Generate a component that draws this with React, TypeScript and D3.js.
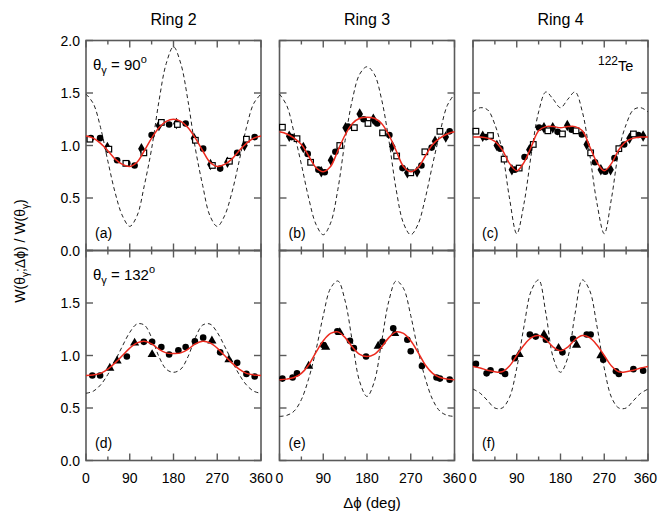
import React, { useEffect, useRef } from 'react';
import * as d3 from 'd3';

const curveAngles = [0, 15, 30, 45, 60, 75, 90, 105, 120, 135, 150, 165, 180, 195, 210, 225, 240, 255, 270, 285, 300, 315, 330, 345, 360];

const ringLabels = ['Ring 2', 'Ring 3', 'Ring 4'];
const panelLetters = ['(a)', '(b)', '(c)', '(d)', '(e)', '(f)'];
const xTickLabels = [0, 90, 180, 270, 360];
const yTickLabelsTop = [0, 0.5, 1.0, 1.5, 2.0];
const yTickLabelsBottom = [0, 0.5, 1.0, 1.5];

// theta = 90 row
const theoryA = [1.49, 1.40, 1.17, 0.85, 0.55, 0.33, 0.23, 0.33, 0.62, 0.97, 1.42, 1.78, 1.94, 1.78, 1.42, 0.97, 0.62, 0.33, 0.23, 0.33, 0.55, 0.85, 1.17, 1.40, 1.49];
const fitA = [1.09, 1.07, 1.02, 0.95, 0.87, 0.82, 0.80, 0.84, 0.95, 1.07, 1.17, 1.23, 1.25, 1.23, 1.17, 1.07, 0.95, 0.84, 0.80, 0.82, 0.87, 0.95, 1.02, 1.07, 1.09];
const theoryB = [1.49, 1.38, 1.12, 0.82, 0.50, 0.25, 0.15, 0.26, 0.58, 1.05, 1.44, 1.68, 1.75, 1.68, 1.44, 1.05, 0.58, 0.26, 0.15, 0.25, 0.50, 0.82, 1.12, 1.38, 1.49];
const fitB = [1.13, 1.11, 1.07, 1.01, 0.90, 0.79, 0.75, 0.80, 0.95, 1.10, 1.21, 1.26, 1.27, 1.26, 1.21, 1.10, 0.95, 0.80, 0.75, 0.79, 0.90, 1.01, 1.07, 1.11, 1.13];
const theoryC = [1.32, 1.36, 1.34, 1.20, 0.95, 0.50, 0.16, 0.45, 0.92, 1.32, 1.51, 1.44, 1.36, 1.44, 1.51, 1.32, 0.92, 0.45, 0.16, 0.50, 0.95, 1.20, 1.34, 1.36, 1.32];
const fitC = [1.08, 1.08, 1.07, 1.04, 0.96, 0.83, 0.76, 0.84, 0.99, 1.14, 1.18, 1.18, 1.17, 1.18, 1.18, 1.14, 0.99, 0.84, 0.76, 0.83, 0.96, 1.04, 1.07, 1.08, 1.08];

// theta = 132 row
const theoryD = [0.64, 0.66, 0.72, 0.82, 0.95, 1.09, 1.22, 1.30, 1.29, 1.17, 0.99, 0.87, 0.84, 0.87, 0.99, 1.17, 1.29, 1.30, 1.22, 1.09, 0.95, 0.82, 0.72, 0.66, 0.64];
const fitD = [0.81, 0.815, 0.83, 0.87, 0.93, 1.00, 1.07, 1.12, 1.135, 1.11, 1.06, 1.025, 1.02, 1.025, 1.06, 1.11, 1.135, 1.12, 1.07, 1.00, 0.93, 0.87, 0.83, 0.815, 0.81];
const theoryE = [0.42, 0.43, 0.47, 0.58, 0.78, 1.05, 1.38, 1.64, 1.71, 1.52, 1.13, 0.75, 0.61, 0.75, 1.13, 1.52, 1.71, 1.64, 1.38, 1.05, 0.78, 0.58, 0.47, 0.43, 0.42];
const fitE = [0.77, 0.775, 0.79, 0.83, 0.91, 1.03, 1.14, 1.21, 1.225, 1.17, 1.08, 1.01, 0.99, 1.01, 1.08, 1.17, 1.225, 1.21, 1.14, 1.03, 0.91, 0.83, 0.79, 0.775, 0.77];
const theoryF = [0.68, 0.64, 0.57, 0.50, 0.50, 0.60, 0.88, 1.28, 1.62, 1.72, 1.40, 0.98, 0.84, 0.98, 1.40, 1.72, 1.62, 1.28, 0.88, 0.60, 0.50, 0.50, 0.57, 0.64, 0.68];
const fitF = [0.895, 0.88, 0.86, 0.845, 0.845, 0.90, 1.00, 1.10, 1.17, 1.19, 1.15, 1.08, 1.045, 1.08, 1.15, 1.19, 1.17, 1.10, 1.00, 0.90, 0.845, 0.845, 0.86, 0.88, 0.895];

// measured points [delta phi, W]
const circlesA = [[10, 1.07], [29, 1.07], [64, 0.86], [85, 0.83], [100, 0.81], [135, 1.10], [171, 1.20], [205, 1.21], [241, 0.97], [276, 0.78], [311, 0.93], [347, 1.08]];
const diamondsA = [[44, 0.98], [114, 0.97], [150, 1.19], [186, 1.21], [222, 1.07], [256, 0.82], [291, 0.84], [326, 1.0]];
const squaresA = [[8, 1.06], [47, 0.965], [82, 0.83], [119, 0.93], [155, 1.22], [188, 1.20], [225, 1.05], [260, 0.81], [295, 0.85], [330, 1.06]];

const circlesB = [[25, 1.08], [58, 0.92], [80, 0.77], [93, 0.745], [115, 0.94], [141, 1.18], [173, 1.25], [201, 1.21], [226, 1.10], [253, 0.785], [292, 0.81], [313, 0.98], [350, 1.135]];
const diamondsB = [[20, 1.088], [49, 0.98], [86, 0.75], [106, 0.86], [136, 1.17], [165, 1.30], [193, 1.25], [232, 0.99], [263, 0.74], [283, 0.75], [320, 1.04], [342, 1.08]];
const squaresB = [[6, 1.174], [36, 1.065], [64, 0.84], [124, 1.0], [154, 1.17], [182, 1.21], [212, 1.12], [241, 0.90], [270, 0.74], [299, 0.94], [330, 1.135]];

const circlesC = [[27, 1.08], [56, 0.97], [86, 0.77], [106, 0.89], [136, 1.17], [174, 1.13], [203, 1.15], [224, 1.105], [251, 0.84], [272, 0.75], [291, 0.88], [311, 1.01], [340, 1.10]];
const diamondsC = [[20, 1.088], [49, 1.0], [80, 0.77], [116, 0.96], [146, 1.17], [164, 1.17], [194, 1.19], [234, 1.01], [263, 0.77], [283, 0.77], [322, 1.07], [350, 1.09]];
const squaresC = [[6, 1.136], [36, 1.095], [64, 0.87], [95, 0.785], [124, 1.01], [154, 1.14], [184, 1.11], [212, 1.14], [242, 0.93], [300, 0.97], [330, 1.11]];

const circlesD = [[13, 0.81], [29, 0.81], [84, 0.99], [119, 1.13], [136, 1.13], [155, 1.08], [171, 1.01], [190, 1.05], [205, 1.08], [224, 1.135], [241, 1.17], [276, 1.03], [311, 0.93], [330, 0.825], [347, 0.80]];
const trianglesD = [[49, 0.88], [64, 0.95], [100, 1.12], [136, 1.01], [259, 1.14], [294, 0.96]];

const circlesE = [[6, 0.78], [27, 0.79], [36, 0.83], [90, 1.10], [119, 1.23], [145, 1.14], [153, 1.07], [178, 0.99], [212, 1.13], [234, 1.26], [263, 1.15], [270, 1.04], [293, 0.90], [323, 0.79], [330, 0.78], [350, 0.77]];
const trianglesE = [[60, 0.90], [95, 1.08], [124, 1.22], [203, 1.09], [237, 1.21]];

const circlesF = [[6, 0.92], [28, 0.83], [36, 0.86], [59, 0.85], [66, 0.825], [86, 0.975], [117, 1.20], [129, 1.18], [150, 1.15], [184, 1.03], [206, 1.16], [234, 1.20], [242, 1.20], [268, 0.96], [294, 0.85], [300, 0.825], [330, 0.87], [350, 0.855]];
const trianglesF = [[95, 1.01], [146, 1.20], [176, 1.07], [213, 1.10], [263, 1.00]];

const panels = [
    { theory: theoryA, fit: fitA, circles: circlesA, diamonds: diamondsA, squares: squaresA, triangles: [] },
    { theory: theoryB, fit: fitB, circles: circlesB, diamonds: diamondsB, squares: squaresB, triangles: [] },
    { theory: theoryC, fit: fitC, circles: circlesC, diamonds: diamondsC, squares: squaresC, triangles: [] },
    { theory: theoryD, fit: fitD, circles: circlesD, diamonds: [], squares: [], triangles: trianglesD },
    { theory: theoryE, fit: fitE, circles: circlesE, diamonds: [], squares: [], triangles: trianglesE },
    { theory: theoryF, fit: fitF, circles: circlesF, diamonds: [], squares: [], triangles: trianglesF },
];

const App = () => {
    const ref = useRef<SVGSVGElement>(null);

    useEffect(() => {
        const svg = d3.select(ref.current);
        svg.selectAll('*').remove();

        const font = 'Arial, "Liberation Sans", Helvetica, sans-serif';
        const frameColor = '#5a5a5a';
        const panelW = 175;
        const panelH = 210;
        const lefts = [86, 279.5, 473];
        const tops = [40.5, 250.5];

        const x = d3.scaleLinear().domain([0, 360]).range([0, panelW]);
        const y = d3.scaleLinear().domain([0, 2]).range([panelH, 0]);

        const line = d3.line<number>()
            .x((_, i) => x(curveAngles[i]))
            .y(d => y(d))
            .curve(d3.curveCatmullRom.alpha(0.5));

        panels.forEach((p, idx) => {
            const col = idx % 3;
            const row = Math.floor(idx / 3);
            const g = svg.append('g')
                .attr('transform', `translate(${lefts[col]}, ${tops[row]})`);

            // ticks (inward, all four sides)
            d3.range(0, 361, 45).forEach(a => {
                const len = a % 90 === 0 ? 7 : 4;
                g.append('line').attr('x1', x(a)).attr('x2', x(a)).attr('y1', panelH).attr('y2', panelH - len)
                    .attr('stroke', frameColor).attr('stroke-width', 1.4);
                g.append('line').attr('x1', x(a)).attr('x2', x(a)).attr('y1', 0).attr('y2', len)
                    .attr('stroke', frameColor).attr('stroke-width', 1.4);
            });
            d3.range(0, 2.01, 0.5).forEach(v => {
                g.append('line').attr('x1', 0).attr('x2', 7).attr('y1', y(v)).attr('y2', y(v))
                    .attr('stroke', frameColor).attr('stroke-width', 1.4);
                g.append('line').attr('x1', panelW).attr('x2', panelW - 7).attr('y1', y(v)).attr('y2', y(v))
                    .attr('stroke', frameColor).attr('stroke-width', 1.4);
            });

            g.append('rect')
                .attr('width', panelW).attr('height', panelH)
                .attr('fill', 'none').attr('stroke', frameColor).attr('stroke-width', 1.6);

            // theory (dashed)
            g.append('path')
                .attr('d', line(p.theory))
                .attr('fill', 'none').attr('stroke', '#222')
                .attr('stroke-width', 1).attr('stroke-dasharray', '4,3');

            // data points
            const sym = (type: d3.SymbolType, size: number) => d3.symbol().type(type).size(size)();
            p.circles.forEach(d => {
                g.append('circle').attr('cx', x(d[0])).attr('cy', y(d[1])).attr('r', 3.3).attr('fill', '#000');
            });
            p.diamonds.forEach(d => {
                g.append('path').attr('d', sym(d3.symbolDiamond, 38))
                    .attr('transform', `translate(${x(d[0])}, ${y(d[1])})`).attr('fill', '#000');
            });
            p.triangles.forEach(d => {
                g.append('path').attr('d', sym(d3.symbolTriangle, 36))
                    .attr('transform', `translate(${x(d[0])}, ${y(d[1])})`).attr('fill', '#000');
            });
            p.squares.forEach(d => {
                g.append('rect').attr('x', x(d[0]) - 2.8).attr('y', y(d[1]) - 2.8)
                    .attr('width', 5.6).attr('height', 5.6)
                    .attr('fill', '#fff').attr('stroke', '#000').attr('stroke-width', 1.2);
            });

            // fit (red)
            g.append('path')
                .attr('d', line(p.fit))
                .attr('fill', 'none').attr('stroke', '#ec2a1e').attr('stroke-width', 1.5);

            g.append('text')
                .attr('x', 9).attr('y', panelH - 13)
                .attr('font-family', font).attr('font-size', 14)
                .text(panelLetters[idx]);

            if (col === 0) {
                const labels = row === 0 ? yTickLabelsTop : yTickLabelsBottom;
                labels.forEach(v => {
                    g.append('text')
                        .attr('x', -6).attr('y', y(v) + 5)
                        .attr('text-anchor', 'end')
                        .attr('font-family', font).attr('font-size', 14)
                        .text(v.toFixed(1));
                });
                const t = g.append('text')
                    .attr('x', 7).attr('y', 29.5)
                    .attr('font-family', font).attr('font-size', 15);
                t.append('tspan').text('θ');
                t.append('tspan').attr('dy', 4).attr('font-size', 11).text('γ');
                t.append('tspan').attr('dy', -4).text(row === 0 ? ' = 90' : ' = 132');
                t.append('tspan').attr('dy', -7).attr('font-size', 11).text('o');
            }
            if (row === 0) {
                svg.append('text')
                    .attr('x', lefts[col] + panelW / 2).attr('y', 25)
                    .attr('text-anchor', 'middle')
                    .attr('font-family', font).attr('font-size', 16)
                    .text(ringLabels[col]);
            } else {
                xTickLabels.forEach(v => {
                    // last label of the last panel sits at the page edge, keep it inside
                    const atEdge = col === 2 && v === 360;
                    g.append('text')
                        .attr('x', atEdge ? panelW + 9 : x(v)).attr('y', panelH + 22.5)
                        .attr('text-anchor', atEdge ? 'end' : 'middle')
                        .attr('font-family', font).attr('font-size', 14)
                        .text(v);
                });
            }
        });

        // 122Te label
        const te = svg.append('text')
            .attr('x', 598).attr('y', 64.5)
            .attr('font-family', font);
        te.append('tspan').attr('font-size', 12).text('122');
        te.append('tspan').attr('dy', 6.8).attr('font-size', 14.5).text('Te');

        // axis titles
        const yl = svg.append('text')
            .attr('transform', 'translate(25, 251) rotate(-90)')
            .attr('text-anchor', 'middle')
            .attr('font-family', font).attr('font-size', 14);
        yl.append('tspan').text('W(θ');
        yl.append('tspan').attr('dy', 4).attr('font-size', 10).text('γ');
        yl.append('tspan').attr('dy', -4).text(';Δϕ) / W(θ');
        yl.append('tspan').attr('dy', 4).attr('font-size', 10).text('γ');
        yl.append('tspan').attr('dy', -4).text(')');

        svg.append('text')
            .attr('x', 372).attr('y', 508)
            .attr('text-anchor', 'middle')
            .attr('font-family', font).attr('font-size', 15)
            .text('Δϕ (deg)');
    }, []);

    return (
        <svg ref={ref} width={658} height={514}
            style={{ position: 'absolute', left: 0, top: 0, background: '#fff' }}></svg>
    );
};

export default App;
